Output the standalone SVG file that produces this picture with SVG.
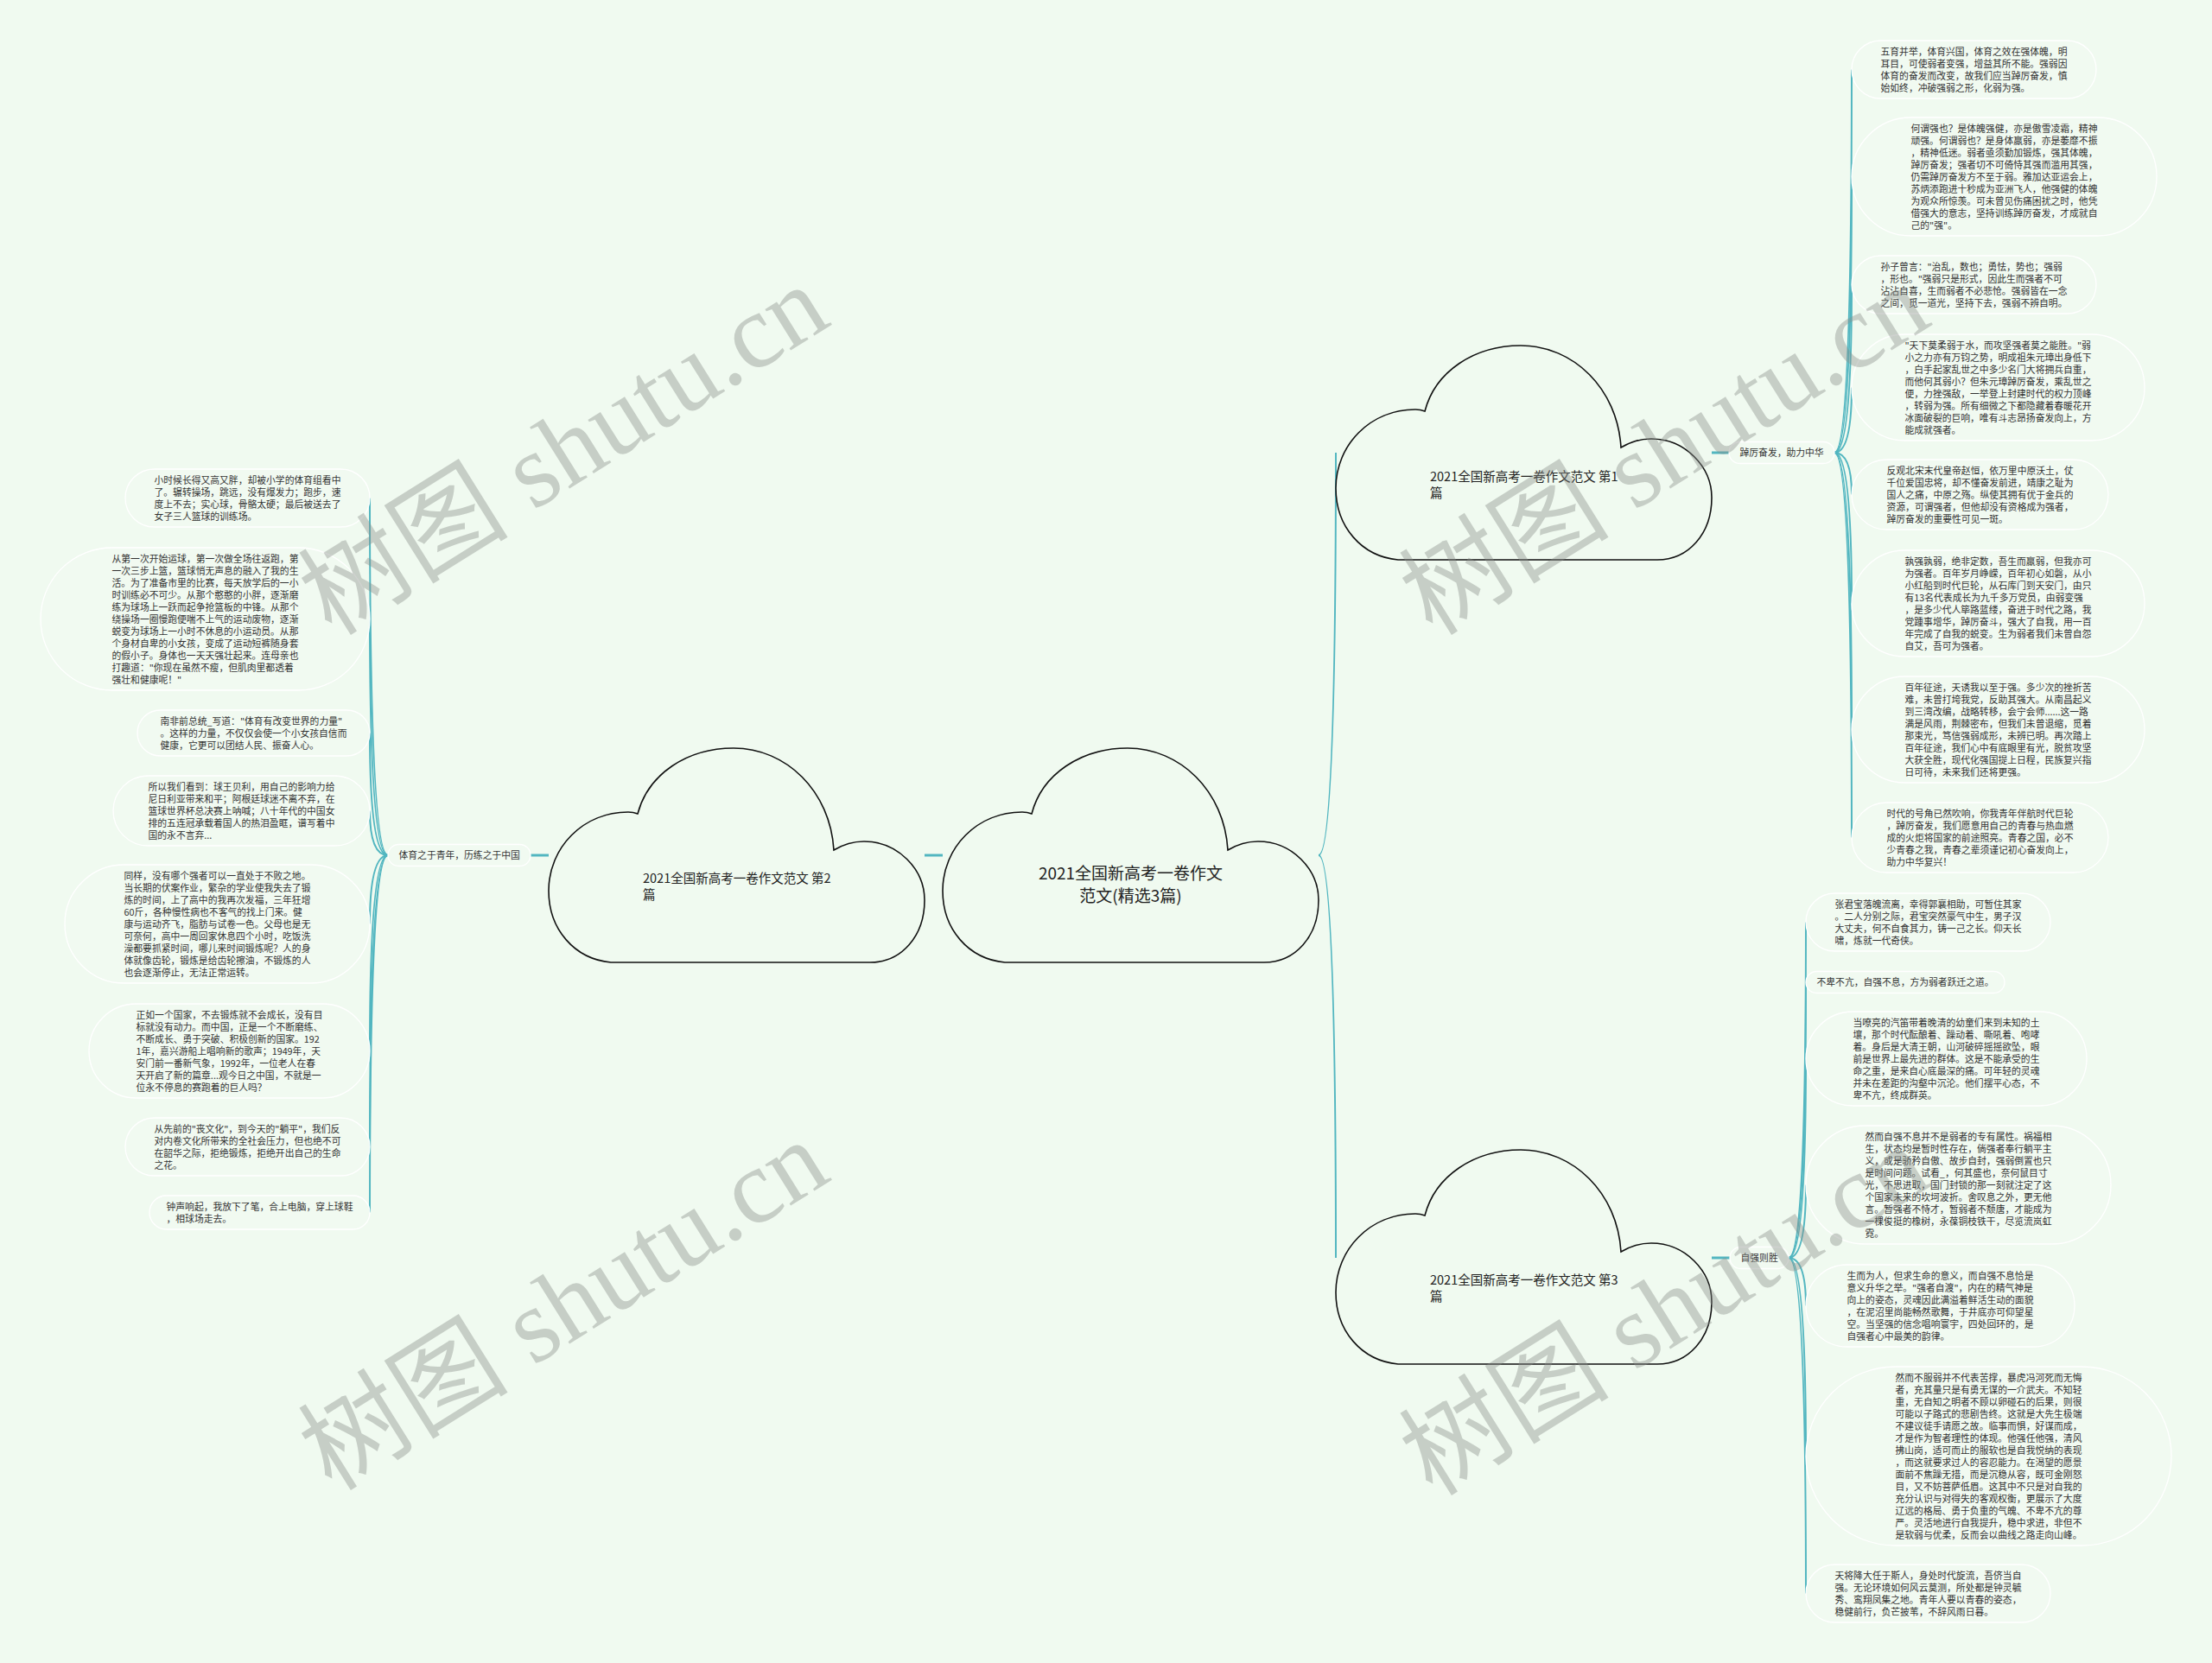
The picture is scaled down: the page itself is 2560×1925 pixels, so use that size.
<svg xmlns="http://www.w3.org/2000/svg" xmlns:xlink="http://www.w3.org/1999/xlink" width="2560" height="1925" viewBox="0 0 2560 1925">
<style>
.bg{fill:#f0faf0}
.cloud{fill:#f0faf0;stroke:#111;stroke-width:1.6}
.leaf{fill:#f1faf1;stroke:#ffffff;stroke-width:1.3}
.t{font-family:"Noto Sans CJK SC","Noto Sans",sans-serif;font-size:10.8px;fill:#333}
.ct{font-family:"Noto Sans CJK SC","Noto Sans",sans-serif;font-size:14.5px;fill:#222}
.mt{font-family:"Noto Sans CJK SC","Noto Sans",sans-serif;font-size:19px;fill:#222}
.edge{fill:none;stroke:#52b6c0;stroke-width:2}
.thick{stroke-width:3}
.wm{font-family:"Liberation Serif","Noto Sans CJK SC",serif;font-size:122px;fill:#8a8f8a;opacity:0.4}
</style>
<defs>
<path id="cloud" d="M72,248 C30,244 0,210 0,165 C0,115 40,74 92,74 Q98,74 103,76 C115,30 160,0 214,0 C275,0 326,50 330,118 C340,112 352,108 365,108 C404,108 435,140 435,176 C435,218 408,248 372,248 Z"/>
</defs>
<rect class="bg" x="0" y="0" width="2560" height="1925"/>

<g id="connectors">
<line class="edge thick" x1="1070" y1="990" x2="1091" y2="990"/>
<line class="edge thick" x1="614" y1="990" x2="635" y2="990"/>
<line class="edge thick" x1="1981" y1="524" x2="2001" y2="524"/>
<line class="edge thick" x1="1981" y1="1456" x2="2002" y2="1456"/>
<path class="edge" d="M1526,990 Q1546,990 1546,524"/>
<path class="edge" d="M1526,990 Q1546,990 1546,1456"/>
<path class="edge" d="M449,990 Q428,990 428,576.5"/>
<path class="edge" d="M449,990 Q428,990 428,716.5"/>
<path class="edge" d="M449,990 Q428,990 428,848.5"/>
<path class="edge" d="M449,990 Q428,990 428,938.5"/>
<path class="edge" d="M449,990 Q428,990 428,1069.5"/>
<path class="edge" d="M449,990 Q428,990 428,1216.5"/>
<path class="edge" d="M449,990 Q428,990 428,1327.5"/>
<path class="edge" d="M449,990 Q428,990 428,1403.5"/>
<path class="edge" d="M2123,524 Q2143,524 2143,80.5"/>
<path class="edge" d="M2123,524 Q2143,524 2143,204.5"/>
<path class="edge" d="M2123,524 Q2143,524 2143,329.5"/>
<path class="edge" d="M2123,524 Q2143,524 2143,448.5"/>
<path class="edge" d="M2123,524 Q2143,524 2143,572.5"/>
<path class="edge" d="M2123,524 Q2143,524 2143,698.5"/>
<path class="edge" d="M2123,524 Q2143,524 2143,844.5"/>
<path class="edge" d="M2123,524 Q2143,524 2143,969.5"/>
<path class="edge" d="M2070,1456 Q2090,1456 2090,1067.5"/>
<path class="edge" d="M2070,1456 Q2090,1456 2090,1137"/>
<path class="edge" d="M2070,1456 Q2090,1456 2090,1225.5"/>
<path class="edge" d="M2070,1456 Q2090,1456 2090,1371.5"/>
<path class="edge" d="M2070,1456 Q2090,1456 2090,1511.5"/>
<path class="edge" d="M2070,1456 Q2090,1456 2090,1685.5"/>
<path class="edge" d="M2070,1456 Q2090,1456 2090,1844.5"/>
</g>

<g id="root">
<use href="#cloud" class="cloud" x="1091" y="866"/>
<text class="mt" text-anchor="middle" x="1308.5" y="1018">2021全国新高考一卷作文</text>
<text class="mt" text-anchor="middle" x="1308.5" y="1044">范文(精选3篇)</text>
</g>

<g id="topic2">
<use href="#cloud" class="cloud" x="635" y="866"/>
<text class="ct" x="744" y="1022">2021全国新高考一卷作文范文 第2</text>
<text class="ct" x="744" y="1041">篇</text>
</g>

<g id="topic1">
<use href="#cloud" class="cloud" x="1546" y="400"/>
<text class="ct" x="1655" y="557">2021全国新高考一卷作文范文 第1</text>
<text class="ct" x="1655" y="576">篇</text>
</g>

<g id="topic3">
<use href="#cloud" class="cloud" x="1546" y="1331"/>
<text class="ct" x="1655" y="1487">2021全国新高考一卷作文范文 第3</text>
<text class="ct" x="1655" y="1506">篇</text>
</g>

<g id="label2">
<rect class="leaf" x="449" y="977.5" width="165" height="25" rx="12.5"/>
<text class="t" x="461.5" y="994">体育之于青年，历练之于中国</text>
</g>
<g id="label1">
<rect class="leaf" x="2001" y="511.5" width="122" height="25" rx="12.5"/>
<text class="t" x="2013.5" y="528">踔厉奋发，助力中华</text>
</g>
<g id="label3">
<rect class="leaf" x="2002" y="1443.5" width="68" height="25" rx="12.5"/>
<text class="t" x="2014.5" y="1460">自强则胜</text>
</g>

<g id="leaf-l1">
<rect class="leaf" x="145" y="543" width="283" height="67" rx="33.5"/>
<text class="t" y="560"><tspan x="178.5">小时候长得又高又胖，却被小学的体育组看中</tspan><tspan x="178.5" dy="14">了。辗转操场，跳远，没有爆发力；跑步，速</tspan><tspan x="178.5" dy="14">度上不去；实心球，骨骼太硬；最后被送去了</tspan><tspan x="178.5" dy="14">女子三人篮球的训练场。</tspan></text>
</g>
<g id="leaf-l2">
<rect class="leaf" x="47" y="634" width="381" height="165" rx="82.5"/>
<text class="t" y="651"><tspan x="129.5">从第一次开始运球，第一次做全场往返跑，第</tspan><tspan x="129.5" dy="14">一次三步上篮，篮球悄无声息的融入了我的生</tspan><tspan x="129.5" dy="14">活。为了准备市里的比赛，每天放学后的一小</tspan><tspan x="129.5" dy="14">时训练必不可少。从那个憨憨的小胖，逐渐磨</tspan><tspan x="129.5" dy="14">练为球场上一跃而起争抢篮板的中锋。从那个</tspan><tspan x="129.5" dy="14">绕操场一圈慢跑便喘不上气的运动废物，逐渐</tspan><tspan x="129.5" dy="14">蜕变为球场上一小时不休息的小运动员。从那</tspan><tspan x="129.5" dy="14">个身材自卑的小女孩，变成了运动短裤随身套</tspan><tspan x="129.5" dy="14">的假小子。身体也一天天强壮起来。连母亲也</tspan><tspan x="129.5" dy="14">打趣道："你现在虽然不瘦，但肌肉里都透着</tspan><tspan x="129.5" dy="14">强壮和健康呢！"</tspan></text>
</g>
<g id="leaf-l3">
<rect class="leaf" x="159" y="822" width="269" height="53" rx="26.5"/>
<text class="t" y="839"><tspan x="185.5">南非前总统_写道："体育有改变世界的力量"</tspan><tspan x="185.5" dy="14">。这样的力量，不仅仅会使一个小女孩自信而</tspan><tspan x="185.5" dy="14">健康，它更可以团结人民、振奋人心。</tspan></text>
</g>
<g id="leaf-l4">
<rect class="leaf" x="131" y="898" width="297" height="81" rx="40.5"/>
<text class="t" y="915"><tspan x="171.5">所以我们看到：球王贝利，用自己的影响力给</tspan><tspan x="171.5" dy="14">尼日利亚带来和平；阿根廷球迷不离不弃，在</tspan><tspan x="171.5" dy="14">篮球世界杯总决赛上呐喊；八十年代的中国女</tspan><tspan x="171.5" dy="14">排的五连冠承载着国人的热泪盈眶，谱写着中</tspan><tspan x="171.5" dy="14">国的永不言弃...</tspan></text>
</g>
<g id="leaf-l5">
<rect class="leaf" x="75" y="1001" width="353" height="137" rx="68.5"/>
<text class="t" y="1018"><tspan x="143.5">同样，没有哪个强者可以一直处于不败之地。</tspan><tspan x="143.5" dy="14">当长期的伏案作业，繁杂的学业使我失去了锻</tspan><tspan x="143.5" dy="14">炼的时间，上了高中的我再次发福，三年狂增</tspan><tspan x="143.5" dy="14">60斤，各种慢性病也不客气的找上门来。健</tspan><tspan x="143.5" dy="14">康与运动齐飞，脂肪与试卷一色。父母也是无</tspan><tspan x="143.5" dy="14">可奈何，高中一周回家休息四个小时，吃饭洗</tspan><tspan x="143.5" dy="14">澡都要抓紧时间，哪儿来时间锻炼呢？人的身</tspan><tspan x="143.5" dy="14">体就像齿轮，锻炼是给齿轮擦油，不锻炼的人</tspan><tspan x="143.5" dy="14">也会逐渐停止，无法正常运转。</tspan></text>
</g>
<g id="leaf-l6">
<rect class="leaf" x="103" y="1162" width="325" height="109" rx="54.5"/>
<text class="t" y="1179"><tspan x="157.5">正如一个国家，不去锻炼就不会成长，没有目</tspan><tspan x="157.5" dy="14">标就没有动力。而中国，正是一个不断磨练、</tspan><tspan x="157.5" dy="14">不断成长、勇于突破、积极创新的国家。192</tspan><tspan x="157.5" dy="14">1年，嘉兴游船上唱响新的歌声；1949年，天</tspan><tspan x="157.5" dy="14">安门前一番新气象，1992年，一位老人在春</tspan><tspan x="157.5" dy="14">天开启了新的篇章...观今日之中国，不就是一</tspan><tspan x="157.5" dy="14">位永不停息的赛跑着的巨人吗？</tspan></text>
</g>
<g id="leaf-l7">
<rect class="leaf" x="145" y="1294" width="283" height="67" rx="33.5"/>
<text class="t" y="1311"><tspan x="178.5">从先前的"丧文化"，到今天的"躺平"，我们反</tspan><tspan x="178.5" dy="14">对内卷文化所带来的全社会压力，但也绝不可</tspan><tspan x="178.5" dy="14">在韶华之际，拒绝锻炼，拒绝开出自己的生命</tspan><tspan x="178.5" dy="14">之花。</tspan></text>
</g>
<g id="leaf-l8">
<rect class="leaf" x="173" y="1384" width="255" height="39" rx="19.5"/>
<text class="t" y="1401"><tspan x="192.5">钟声响起，我放下了笔，合上电脑，穿上球鞋</tspan><tspan x="192.5" dy="14">，相球场走去。</tspan></text>
</g>

<g id="leaf-r1">
<rect class="leaf" x="2143" y="47" width="283" height="67" rx="33.5"/>
<text class="t" y="64"><tspan x="2176.5">五育并举，体育兴国，体育之效在强体魄，明</tspan><tspan x="2176.5" dy="14">耳目，可使弱者变强，增益其所不能。强弱因</tspan><tspan x="2176.5" dy="14">体育的奋发而改变，故我们应当踔厉奋发，慎</tspan><tspan x="2176.5" dy="14">始如终，冲破强弱之形，化弱为强。</tspan></text>
</g>
<g id="leaf-r2">
<rect class="leaf" x="2143" y="136" width="353" height="137" rx="68.5"/>
<text class="t" y="153"><tspan x="2211.5">何谓强也？是体魄强健，亦是傲雪凌霜，精神</tspan><tspan x="2211.5" dy="14">顽强。何谓弱也？是身体羸弱，亦是萎靡不振</tspan><tspan x="2211.5" dy="14">，精神低迷。弱者亟须勤加锻炼，强其体魄，</tspan><tspan x="2211.5" dy="14">踔厉奋发；强者切不可倚恃其强而滥用其强，</tspan><tspan x="2211.5" dy="14">仍需踔厉奋发方不至于弱。雅加达亚运会上，</tspan><tspan x="2211.5" dy="14">苏炳添跑进十秒成为亚洲飞人，他强健的体魄</tspan><tspan x="2211.5" dy="14">为观众所惊羡。可未曾见伤痛困扰之时，他凭</tspan><tspan x="2211.5" dy="14">借强大的意志，坚持训练踔厉奋发，才成就自</tspan><tspan x="2211.5" dy="14">己的"强"。</tspan></text>
</g>
<g id="leaf-r3">
<rect class="leaf" x="2143" y="296" width="283" height="67" rx="33.5"/>
<text class="t" y="313"><tspan x="2176.5">孙子曾言："治乱，数也；勇怯，势也；强弱</tspan><tspan x="2176.5" dy="14">，形也。"强弱只是形式，因此生而强者不可</tspan><tspan x="2176.5" dy="14">沾沾自喜，生而弱者不必悲怆。强弱皆在一念</tspan><tspan x="2176.5" dy="14">之间，觅一道光，坚持下去，强弱不辨自明。</tspan></text>
</g>
<g id="leaf-r4">
<rect class="leaf" x="2143" y="387" width="339" height="123" rx="61.5"/>
<text class="t" y="404"><tspan x="2204.5">"天下莫柔弱于水，而攻坚强者莫之能胜。"弱</tspan><tspan x="2204.5" dy="14">小之力亦有万钧之势，明成祖朱元璋出身低下</tspan><tspan x="2204.5" dy="14">，白手起家乱世之中多少名门大将拥兵自重，</tspan><tspan x="2204.5" dy="14">而他何其弱小？但朱元璋踔厉奋发，乘乱世之</tspan><tspan x="2204.5" dy="14">便，力挫强敌，一举登上封建时代的权力顶峰</tspan><tspan x="2204.5" dy="14">，转弱为强。所有细微之下都隐藏着春暖花开</tspan><tspan x="2204.5" dy="14">冰面破裂的巨响，唯有斗志昂扬奋发向上，方</tspan><tspan x="2204.5" dy="14">能成就强者。</tspan></text>
</g>
<g id="leaf-r5">
<rect class="leaf" x="2143" y="532" width="297" height="81" rx="40.5"/>
<text class="t" y="549"><tspan x="2183.5">反观北宋末代皇帝赵恒，依万里中原沃土，仗</tspan><tspan x="2183.5" dy="14">千位爱国忠将，却不懂奋发前进，靖康之耻为</tspan><tspan x="2183.5" dy="14">国人之痛，中原之殇。纵使其拥有优于金兵的</tspan><tspan x="2183.5" dy="14">资源，可谓强者，但他却没有资格成为强者，</tspan><tspan x="2183.5" dy="14">踔厉奋发的重要性可见一斑。</tspan></text>
</g>
<g id="leaf-r6">
<rect class="leaf" x="2143" y="637" width="339" height="123" rx="61.5"/>
<text class="t" y="654"><tspan x="2204.5">孰强孰弱，绝非定数，吾生而羸弱，但我亦可</tspan><tspan x="2204.5" dy="14">为强者。百年岁月峥嵘，百年初心如磐，从小</tspan><tspan x="2204.5" dy="14">小红船到时代巨轮，从石库门到天安门，由只</tspan><tspan x="2204.5" dy="14">有13名代表成长为九千多万党员，由弱变强</tspan><tspan x="2204.5" dy="14">，是多少代人筚路蓝缕，奋进于时代之路，我</tspan><tspan x="2204.5" dy="14">党踵事增华，踔厉奋斗，强大了自我，用一百</tspan><tspan x="2204.5" dy="14">年完成了自我的蜕变。生为弱者我们未曾自怨</tspan><tspan x="2204.5" dy="14">自艾，吾可为强者。</tspan></text>
</g>
<g id="leaf-r7">
<rect class="leaf" x="2143" y="783" width="339" height="123" rx="61.5"/>
<text class="t" y="800"><tspan x="2204.5">百年征途，天诱我以至于强。多少次的挫折苦</tspan><tspan x="2204.5" dy="14">难，未曾打垮我党，反助其强大。从南昌起义</tspan><tspan x="2204.5" dy="14">到三湾改编，战略转移，会宁会师......这一路</tspan><tspan x="2204.5" dy="14">满是风雨，荆棘密布，但我们未曾退缩，觅着</tspan><tspan x="2204.5" dy="14">那束光，笃信强弱成形，未辨已明。再次踏上</tspan><tspan x="2204.5" dy="14">百年征途，我们心中有底眼里有光，脱贫攻坚</tspan><tspan x="2204.5" dy="14">大获全胜，现代化强国提上日程，民族复兴指</tspan><tspan x="2204.5" dy="14">日可待，未来我们还将更强。</tspan></text>
</g>
<g id="leaf-r8">
<rect class="leaf" x="2143" y="929" width="297" height="81" rx="40.5"/>
<text class="t" y="946"><tspan x="2183.5">时代的号角已然吹响，你我青年伴航时代巨轮</tspan><tspan x="2183.5" dy="14">，踔厉奋发，我们愿意用自己的青春与热血燃</tspan><tspan x="2183.5" dy="14">成的火炬将国家的前途照亮。青春之国，必不</tspan><tspan x="2183.5" dy="14">少青春之我，青春之辈须谨记初心奋发向上，</tspan><tspan x="2183.5" dy="14">助力中华复兴！</tspan></text>
</g>

<g id="leaf-r9">
<rect class="leaf" x="2090" y="1034" width="283" height="67" rx="33.5"/>
<text class="t" y="1051"><tspan x="2123.5">张君宝落魄流离，幸得郭襄相助，可暂住其家</tspan><tspan x="2123.5" dy="14">。二人分别之际，君宝突然豪气中生，男子汉</tspan><tspan x="2123.5" dy="14">大丈夫，何不自食其力，铸一己之长。仰天长</tspan><tspan x="2123.5" dy="14">啸，炼就一代奇侠。</tspan></text>
</g>
<g id="leaf-r10">
<rect class="leaf" x="2090" y="1124.5" width="230" height="25" rx="12.5"/>
<text class="t" x="2102.5" y="1141">不卑不亢，自强不息，方为弱者跃迁之道。</text>
</g>
<g id="leaf-r11">
<rect class="leaf" x="2090" y="1171" width="325" height="109" rx="54.5"/>
<text class="t" y="1188"><tspan x="2144.5">当嘹亮的汽笛带着晚清的幼童们来到未知的土</tspan><tspan x="2144.5" dy="14">壤，那个时代酝酿着、躁动着、嘶吼着、咆哮</tspan><tspan x="2144.5" dy="14">着。身后是大清王朝，山河破碎摇摇欲坠，眼</tspan><tspan x="2144.5" dy="14">前是世界上最先进的群体。这是不能承受的生</tspan><tspan x="2144.5" dy="14">命之重，是来自心底最深的痛。可年轻的灵魂</tspan><tspan x="2144.5" dy="14">并未在差距的沟壑中沉沦。他们摆平心态，不</tspan><tspan x="2144.5" dy="14">卑不亢，终成群英。</tspan></text>
</g>
<g id="leaf-r12">
<rect class="leaf" x="2090" y="1303" width="353" height="137" rx="68.5"/>
<text class="t" y="1320"><tspan x="2158.5">然而自强不息并不是弱者的专有属性。祸福相</tspan><tspan x="2158.5" dy="14">生，状态均是暂时性存在，倘强者奉行躺平主</tspan><tspan x="2158.5" dy="14">义，或是骄矜自傲、故步自封，强弱倒置也只</tspan><tspan x="2158.5" dy="14">是时间问题。试看_，何其盛也，奈何鼠目寸</tspan><tspan x="2158.5" dy="14">光，不思进取，国门封锁的那一刻就注定了这</tspan><tspan x="2158.5" dy="14">个国家未来的坎坷波折。舍叹息之外，更无他</tspan><tspan x="2158.5" dy="14">言。暂强者不恃才，暂弱者不颓唐，才能成为</tspan><tspan x="2158.5" dy="14">一棵俊挺的橡树，永葆铜枝铁干，尽览流岚虹</tspan><tspan x="2158.5" dy="14">霓。</tspan></text>
</g>
<g id="leaf-r13">
<rect class="leaf" x="2090" y="1464" width="311" height="95" rx="47.5"/>
<text class="t" y="1481"><tspan x="2137.5">生而为人，但求生命的意义，而自强不息恰是</tspan><tspan x="2137.5" dy="14">意义升华之举。"强者自渡"，内在的精气神是</tspan><tspan x="2137.5" dy="14">向上的姿态，灵魂因此满溢着鲜活生动的面貌</tspan><tspan x="2137.5" dy="14">，在泥沼里尚能畅然歌舞，于井底亦可仰望星</tspan><tspan x="2137.5" dy="14">空。当坚强的信念唱响寰宇，四处回环的，是</tspan><tspan x="2137.5" dy="14">自强者心中最美的韵律。</tspan></text>
</g>
<g id="leaf-r14">
<rect class="leaf" x="2090" y="1582" width="423" height="207" rx="103.5"/>
<text class="t" y="1599"><tspan x="2193.5">然而不服弱并不代表苦撑，暴虎冯河死而无悔</tspan><tspan x="2193.5" dy="14">者，充其量只是有勇无谋的一介武夫。不知轻</tspan><tspan x="2193.5" dy="14">重，无自知之明者不顾以卵碰石的后果，则很</tspan><tspan x="2193.5" dy="14">可能以子路式的悲剧告终。这就是大先生极端</tspan><tspan x="2193.5" dy="14">不建议徒手请愿之故。临事而惧，好谋而成，</tspan><tspan x="2193.5" dy="14">才是作为智者理性的体现。他强任他强，清风</tspan><tspan x="2193.5" dy="14">拂山岗，适可而止的服软也是自我悦纳的表现</tspan><tspan x="2193.5" dy="14">，而这就要求过人的容忍能力。在渴望的愿景</tspan><tspan x="2193.5" dy="14">面前不焦躁无措，而是沉稳从容，既可金刚怒</tspan><tspan x="2193.5" dy="14">目，又不妨菩萨低眉。这其中不只是对自我的</tspan><tspan x="2193.5" dy="14">充分认识与对得失的客观权衡，更展示了大度</tspan><tspan x="2193.5" dy="14">辽远的格局、勇于负重的气魄、不卑不亢的尊</tspan><tspan x="2193.5" dy="14">严。灵活地进行自我提升，稳中求进，非但不</tspan><tspan x="2193.5" dy="14">是软弱与优柔，反而会以曲线之路走向山峰。</tspan></text>
</g>
<g id="leaf-r15">
<rect class="leaf" x="2090" y="1811" width="283" height="67" rx="33.5"/>
<text class="t" y="1828"><tspan x="2123.5">天将降大任于斯人，身处时代旋流，吾侪当自</tspan><tspan x="2123.5" dy="14">强。无论环境如何风云莫测，所处都是钟灵毓</tspan><tspan x="2123.5" dy="14">秀、鸾翔凤集之地。青年人要以青春的姿态，</tspan><tspan x="2123.5" dy="14">稳健前行，负芒披苇，不辞风雨日暮。</tspan></text>
</g>

<g id="watermark">
<text class="wm" text-anchor="middle" transform="translate(653,522) rotate(-32)" x="0" y="40">树图 shutu.cn</text>
<text class="wm" text-anchor="middle" transform="translate(1927,522) rotate(-32)" x="0" y="40">树图 shutu.cn</text>
<text class="wm" text-anchor="middle" transform="translate(653,1512) rotate(-32)" x="0" y="40">树图 shutu.cn</text>
<text class="wm" text-anchor="middle" transform="translate(1927,1518) rotate(-32)" x="0" y="40">树图 shutu.cn</text>
</g>
</svg>
